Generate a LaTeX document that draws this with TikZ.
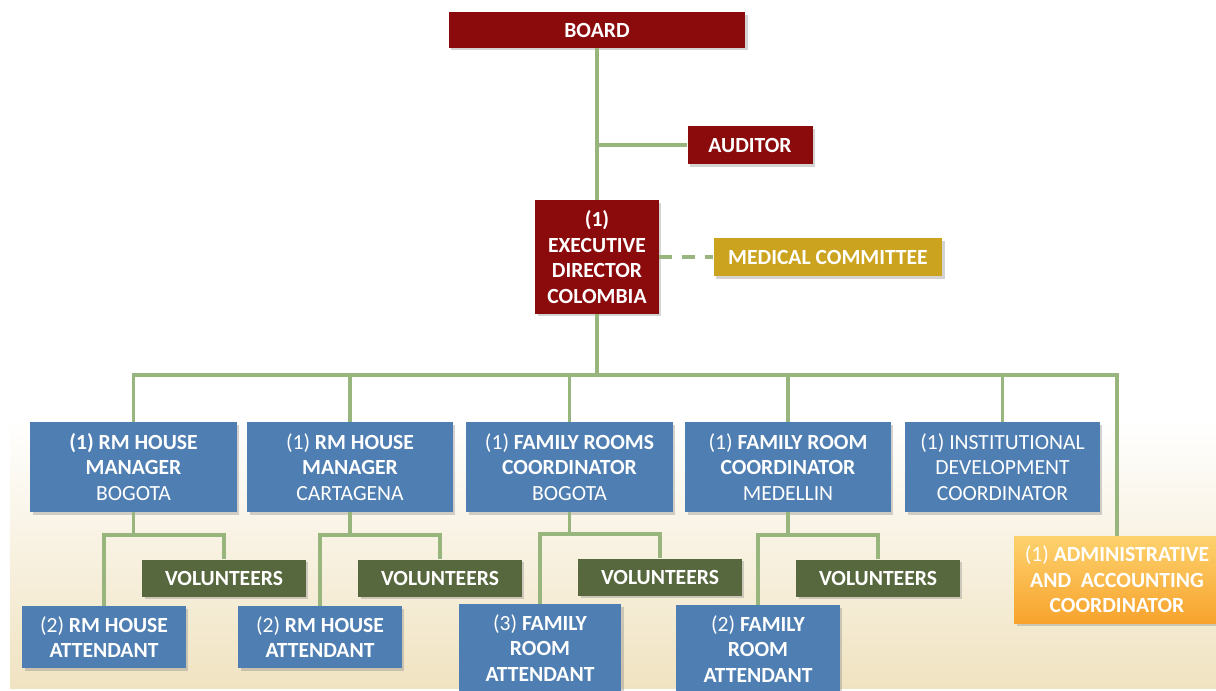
\documentclass[tikz,border=0pt]{standalone}
\usepackage{fontspec}
\setmainfont{Carlito}
\usetikzlibrary{shadows}

\definecolor{boardred}{RGB}{139,10,12}
\definecolor{medgold}{RGB}{203,163,30}
\definecolor{staffblue}{RGB}{79,126,178}
\definecolor{volgreen}{RGB}{88,104,62}
\definecolor{linkgreen}{RGB}{152,181,126}
\definecolor{adminlight}{RGB}{253,210,110}
\definecolor{admindark}{RGB}{247,163,45}
\definecolor{sand}{RGB}{240,227,193}

\newcommand{\rg}[1]{{\mdseries #1}}

\begin{document}
\begin{tikzpicture}[x=0.02cm,y=-0.02cm,
  box/.style={inner sep=0pt, align=center, text=white,
    font=\fontsize{12.3}{14.6}\selectfont\bfseries,
    drop shadow={opacity=0.35,shadow xshift=0.05cm,shadow yshift=-0.05cm}},
  redbox/.style={box, fill=boardred},
  goldbox/.style={box, fill=medgold},
  bluebox/.style={box, fill=staffblue},
  volbox/.style={box, fill=volgreen, minimum width=3.28cm, minimum height=0.74cm},
  adminbox/.style={box, top color=adminlight, bottom color=admindark},
  link/.style={linkgreen, line width=0.075cm},
]

\useasboundingbox (0,0) rectangle (1216,690);
\shade[top color=white, bottom color=sand] (10,420) rectangle (1216,688);

% top of the chart
\node[redbox, minimum width=5.94cm, minimum height=0.72cm] (board) at (597,30) {BOARD};
\node[redbox, minimum width=2.5cm, minimum height=0.76cm] (auditor) at (750,145) {AUDITOR};
\node[redbox, minimum width=2.48cm, minimum height=2.28cm] (exec) at (597,257)
  {(1)\\EXECUTIVE\\DIRECTOR\\COLOMBIA};
\node[goldbox, minimum width=4.58cm, minimum height=0.76cm] (medical) at (828,257) {MEDICAL COMMITTEE};

% first row
\node[bluebox, minimum width=4.14cm, minimum height=1.8cm] (house1) at (133.5,467)
  {(1) RM HOUSE\\MANAGER\\\rg{BOGOTA}};
\node[bluebox, minimum width=4.12cm, minimum height=1.8cm] (house2) at (350,467)
  {\rg{(1)} RM HOUSE\\MANAGER\\\rg{CARTAGENA}};
\node[bluebox, minimum width=4.14cm, minimum height=1.8cm] (rooms1) at (569.5,467)
  {\rg{(1)} FAMILY ROOMS\\COORDINATOR\\\rg{BOGOTA}};
\node[bluebox, minimum width=4.12cm, minimum height=1.8cm] (rooms2) at (788,467)
  {\rg{(1)} FAMILY ROOM\\COORDINATOR\\\rg{MEDELLIN}};
\node[bluebox, minimum width=3.9cm, minimum height=1.8cm] (instit) at (1002.5,467)
  {\rg{(1) INSTITUTIONAL}\\\rg{DEVELOPMENT}\\\rg{COORDINATOR}};
\node[adminbox, minimum width=4.12cm, minimum height=1.74cm] (admin) at (1117,579.5)
  {\rg{(1)} ADMINISTRATIVE\\AND~ ACCOUNTING\\COORDINATOR};

% second row
\node[volbox] (vol1) at (224,578) {VOLUNTEERS};
\node[volbox] (vol2) at (440,578) {VOLUNTEERS};
\node[volbox] (vol3) at (660,577) {VOLUNTEERS};
\node[volbox] (vol4) at (878,578) {VOLUNTEERS};

\node[bluebox, minimum width=3.28cm, minimum height=1.24cm] (att1) at (104,637)
  {\rg{(2)} RM HOUSE\\ATTENDANT};
\node[bluebox, minimum width=3.28cm, minimum height=1.24cm] (att2) at (320,637)
  {\rg{(2)} RM HOUSE\\ATTENDANT};
\node[bluebox, minimum width=3.26cm, minimum height=1.76cm] (att3) at (540,648)
  {\rg{(3)} FAMILY\\ROOM\\ATTENDANT};
\node[bluebox, minimum width=3.28cm, minimum height=1.76cm] (att4) at (758,649)
  {\rg{(2)} FAMILY\\ROOM\\ATTENDANT};

% junctions
\path (exec.south) ++(0,61) coordinate (bus);
\path (house1.south) ++(0,23) coordinate (j1);
\path (house2.south) ++(0,23) coordinate (j2);
\path (rooms1.south) ++(0,22) coordinate (j3);
\path (rooms2.south) ++(0,23) coordinate (j4);

\draw [link] (board.south) -- (exec.north);
\draw [link] (auditor.west) -- (auditor.west -| board.south);
\draw [link, dash pattern=on 0.26cm off 0.2cm] (exec.east) -- (medical.west);

\draw [link] (exec.south) -- (bus);
\draw [link] (house1.north) |- (bus) -| (admin.north);
\draw [link] (house2.north) -- (house2.north |- bus);
\draw [link] (rooms1.north) -- (rooms1.north |- bus);
\draw [link] (rooms2.north) -- (rooms2.north |- bus);
\draw [link] (instit.north) -- (instit.north |- bus);

\draw [link] (house1.south) -- (j1);
\draw [link] (att1.north) |- (j1) -| (vol1.north);
\draw [link] (house2.south) -- (j2);
\draw [link] (att2.north) |- (j2) -| (vol2.north);
\draw [link] (rooms1.south) -- (j3);
\draw [link] (att3.north) |- (j3) -| (vol3.north);
\draw [link] (rooms2.south) -- (j4);
\draw [link] (att4.north) |- (j4) -| (vol4.north);
\end{tikzpicture}
\end{document}
